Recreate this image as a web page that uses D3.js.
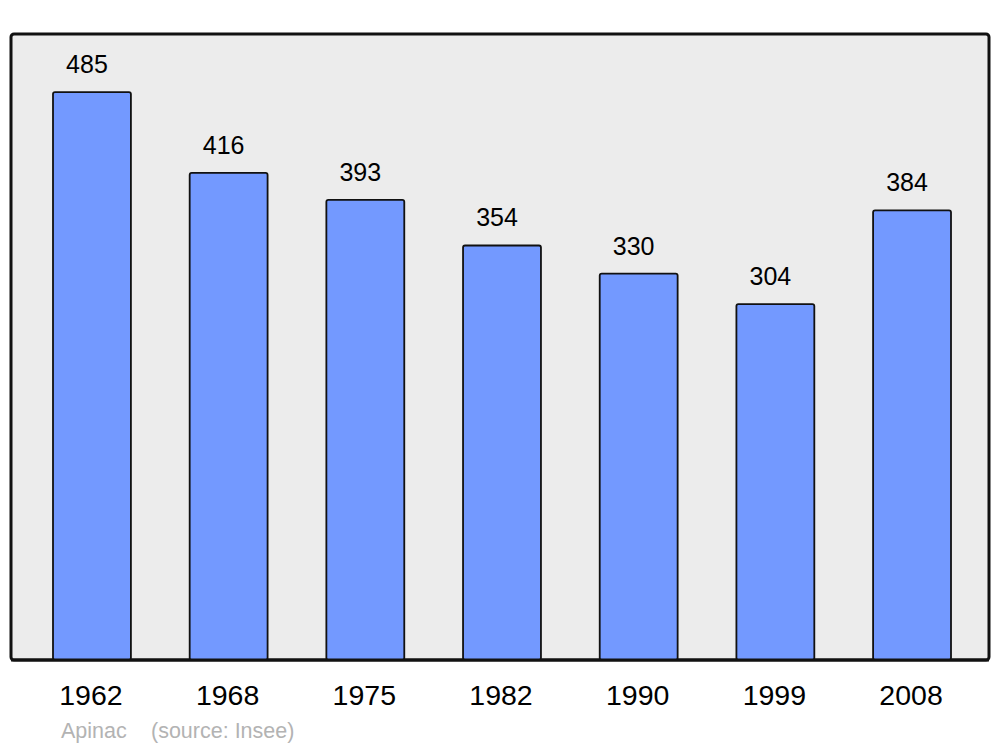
<!DOCTYPE html>
<html>
<head>
<meta charset="utf-8">
<script src="https://cdn.jsdelivr.net/npm/d3@7"></script>
<style>
  body { margin: 0; background: #fff; }
  text { font-family: "Liberation Sans", Arial, sans-serif; }
</style>
</head>
<body>
<div class="canva"></div>
<script>
const years = ['1962', '1968', '1975', '1982', '1990', '1999', '2008'];
const population = [485, 416, 393, 354, 330, 304, 384];
const commune = 'Apinac';
const sourceLabel = '(source: Insee)';

const width = 1000, height = 747;
const panel = {left: 11, top: 34, right: 989, bottom: 660};

const svg = d3.select('.canva').append('svg')
  .attr('width', width)
  .attr('height', height);

// background panel
svg.append('rect')
  .attr('x', panel.left)
  .attr('y', panel.top)
  .attr('width', panel.right - panel.left)
  .attr('height', panel.bottom - panel.top)
  .attr('rx', 3)
  .attr('fill', '#ececec')
  .attr('stroke', '#111')
  .attr('stroke-width', 3);

const x = d3.scaleBand()
  .domain(years)
  .range([53, 951])
  .paddingInner(0.43)
  .paddingOuter(0);

const y = d3.scaleLinear()
  .domain([0, 534.6])
  .range([panel.bottom, panel.top]);

const data = years.map((yr, i) => ({year: yr, value: population[i]}));

svg.selectAll('rect.bar')
  .data(data)
  .enter().append('rect')
  .attr('class', 'bar')
  .attr('x', d => x(d.year))
  .attr('y', d => y(d.value))
  .attr('width', x.bandwidth())
  .attr('height', d => panel.bottom - y(d.value))
  .attr('rx', 2)
  .attr('fill', '#7399ff')
  .attr('stroke', '#111')
  .attr('stroke-width', 1.8);

// redraw bottom line over the bars
svg.append('line')
  .attr('x1', panel.left).attr('x2', panel.right)
  .attr('y1', panel.bottom).attr('y2', panel.bottom)
  .attr('stroke', '#111')
  .attr('stroke-width', 3);

// value labels sit a little left of the bar centre
svg.selectAll('text.val')
  .data(data)
  .enter().append('text')
  .attr('class', 'val')
  .attr('x', d => x(d.year) + x.bandwidth() / 2 - 5)
  .attr('y', d => y(d.value) - 19)
  .attr('text-anchor', 'middle')
  .attr('font-size', 25)
  .attr('fill', '#000')
  .text(d => d.value);

svg.selectAll('text.year')
  .data(data)
  .enter().append('text')
  .attr('class', 'year')
  .attr('x', d => x(d.year) + x.bandwidth() / 2 - 1)
  .attr('y', 705)
  .attr('text-anchor', 'middle')
  .attr('font-size', 28.5)
  .attr('fill', '#000')
  .text(d => d.year);

svg.append('text')
  .attr('x', 61).attr('y', 738)
  .attr('font-size', 21.5)
  .attr('fill', '#b3b3b3')
  .text(commune);

svg.append('text')
  .attr('x', 151).attr('y', 738)
  .attr('font-size', 21.5)
  .attr('fill', '#b3b3b3')
  .text(sourceLabel);
</script>
</body>
</html>
